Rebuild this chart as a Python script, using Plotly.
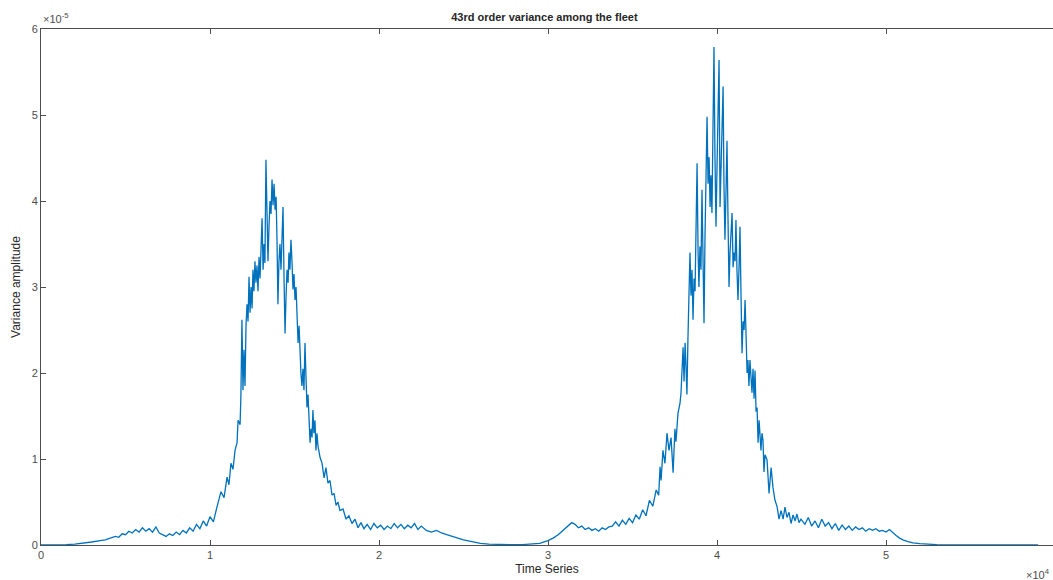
import plotly.graph_objects as go

# Time axis in units of 1e4, variance in units of 1e-5 (as shown with axis multipliers)
t_rise1 = [0.00, 0.05, 0.10, 0.15, 0.20, 0.25, 0.30, 0.35, 0.38, 0.41, 0.44, 0.46, 0.48, 0.50,
           0.52, 0.54, 0.56, 0.58, 0.60, 0.62, 0.64, 0.66, 0.68, 0.70, 0.72, 0.74, 0.76, 0.78,
           0.80, 0.82, 0.84, 0.86, 0.88, 0.90, 0.92, 0.94, 0.96, 0.98, 1.00, 1.02]
v_rise1 = [0.000, 0.000, 0.002, 0.005, 0.010, 0.020, 0.035, 0.050, 0.06, 0.08, 0.10, 0.09, 0.13, 0.12,
           0.16, 0.14, 0.18, 0.15, 0.20, 0.16, 0.19, 0.15, 0.21, 0.14, 0.12, 0.10, 0.13, 0.11,
           0.15, 0.12, 0.17, 0.14, 0.20, 0.16, 0.24, 0.19, 0.28, 0.22, 0.33, 0.27]

t_peak1 = [1.041, 1.065, 1.083, 1.101, 1.112, 1.124, 1.136, 1.148, 1.160, 1.166, 1.178, 1.183,
           1.189, 1.195, 1.201, 1.207, 1.213, 1.219, 1.225, 1.231, 1.237, 1.243, 1.249, 1.254,
           1.260, 1.266, 1.272, 1.278, 1.284, 1.290, 1.296, 1.302, 1.308, 1.314, 1.320, 1.325,
           1.331, 1.337, 1.343, 1.349, 1.355, 1.361, 1.367, 1.373, 1.379, 1.385, 1.391, 1.396,
           1.402, 1.408, 1.414, 1.420, 1.426, 1.432, 1.438, 1.444, 1.450, 1.456, 1.462, 1.467,
           1.473, 1.479, 1.485, 1.491, 1.497, 1.503, 1.509, 1.515, 1.521, 1.527, 1.533, 1.538,
           1.544, 1.550, 1.556, 1.562, 1.568, 1.574, 1.580, 1.586, 1.592, 1.598, 1.604, 1.609,
           1.615, 1.621, 1.627, 1.633, 1.639, 1.651, 1.663, 1.675, 1.686, 1.698, 1.710, 1.722,
           1.734, 1.746, 1.757, 1.769, 1.787, 1.805, 1.822, 1.840, 1.858, 1.876, 1.893, 1.911]
v_peak1 = [0.44, 0.62, 0.55, 0.79, 0.70, 0.95, 0.88, 1.10, 1.19, 1.45, 1.40, 1.75,
           2.62, 1.80, 2.27, 1.85, 2.55, 2.80, 2.60, 3.12, 2.70, 3.00, 2.75, 3.20,
           2.95, 3.30, 3.05, 3.25, 2.95, 3.35, 3.10, 3.45, 3.80, 3.20, 3.50, 3.28,
           4.48, 3.90, 3.30, 3.70, 4.00, 3.85, 4.25, 3.95, 4.20, 3.90, 4.05, 3.60,
           2.80, 3.30, 3.50, 3.20, 3.60, 3.93, 3.10, 2.46, 2.90, 3.20, 3.05, 3.40,
           3.20, 3.55, 3.30, 2.97, 3.15, 2.85, 3.00, 2.73, 2.35, 2.55, 2.10, 2.00,
           1.85, 2.05, 1.80, 2.35, 1.95, 1.60, 1.75, 1.45, 1.19, 1.35, 1.25, 1.57,
           1.30, 1.45, 1.10, 1.30, 1.15, 1.02, 0.95, 0.78, 0.90, 0.72, 0.75, 0.58,
           0.60, 0.46, 0.50, 0.40, 0.42, 0.30, 0.34, 0.25, 0.30, 0.20, 0.26, 0.19]

t_valley = [1.93, 1.95, 1.97, 1.99, 2.01, 2.03, 2.05, 2.07, 2.09, 2.11, 2.13, 2.15, 2.17, 2.19,
            2.21, 2.23, 2.25, 2.28, 2.31, 2.34, 2.37, 2.40, 2.43, 2.46, 2.50, 2.55, 2.60, 2.65,
            2.70, 2.75, 2.80, 2.85, 2.90, 2.95, 3.00, 3.03, 3.06, 3.09, 3.12, 3.14, 3.16, 3.18,
            3.20, 3.22, 3.24, 3.26, 3.28, 3.30, 3.32, 3.34, 3.36, 3.38, 3.40, 3.42, 3.44, 3.46,
            3.48, 3.50, 3.52, 3.54, 3.56, 3.58, 3.60, 3.62, 3.64, 3.655]
v_valley = [0.24, 0.18, 0.25, 0.20, 0.23, 0.18, 0.22, 0.19, 0.25, 0.20, 0.24, 0.19, 0.23, 0.20,
            0.25, 0.18, 0.22, 0.17, 0.15, 0.17, 0.14, 0.12, 0.10, 0.08, 0.06, 0.04, 0.02, 0.01,
            0.005, 0.003, 0.003, 0.005, 0.01, 0.02, 0.05, 0.08, 0.12, 0.17, 0.22, 0.26, 0.24, 0.20,
            0.22, 0.18, 0.20, 0.17, 0.19, 0.16, 0.20, 0.18, 0.21, 0.22, 0.27, 0.22, 0.29, 0.24,
            0.31, 0.26, 0.35, 0.30, 0.41, 0.34, 0.52, 0.45, 0.64, 0.58]

t_peak2 = [3.663, 3.669, 3.680, 3.692, 3.704, 3.716, 3.728, 3.740, 3.751, 3.757, 3.769, 3.781,
           3.787, 3.799, 3.805, 3.811, 3.817, 3.822, 3.828, 3.834, 3.840, 3.846, 3.852, 3.858,
           3.864, 3.870, 3.876, 3.882, 3.888, 3.893, 3.899, 3.905, 3.911, 3.917, 3.923, 3.929,
           3.935, 3.941, 3.947, 3.953, 3.959, 3.964, 3.970, 3.976, 3.982, 3.988, 3.994, 4.000,
           4.006, 4.012, 4.018, 4.024, 4.030, 4.036, 4.041, 4.047, 4.053, 4.059, 4.065, 4.071,
           4.077, 4.083, 4.089, 4.095, 4.101, 4.107, 4.112, 4.118, 4.124, 4.130, 4.136, 4.142,
           4.148, 4.154, 4.160, 4.166, 4.172, 4.178, 4.183, 4.189, 4.195, 4.201, 4.207, 4.213,
           4.219, 4.225, 4.231, 4.237, 4.243, 4.249, 4.254, 4.260, 4.266, 4.272, 4.278, 4.284,
           4.296, 4.308, 4.314, 4.320, 4.331, 4.343, 4.355, 4.367, 4.379, 4.391, 4.402, 4.414,
           4.426, 4.438, 4.450, 4.462, 4.473, 4.485, 4.497]
v_peak2 = [0.91, 0.75, 1.10, 0.95, 1.30, 1.10, 1.25, 0.84, 1.35, 1.20, 1.53, 1.65,
           1.77, 2.30, 1.90, 2.35, 2.05, 1.75, 2.40, 3.08, 3.40, 2.90, 3.20, 2.62,
           3.10, 2.95, 3.60, 4.44, 3.40, 3.00, 3.47, 3.20, 4.13, 3.30, 2.58, 3.60,
           4.40, 4.98, 4.20, 4.51, 3.93, 4.30, 3.86, 4.60, 5.79, 4.50, 3.70, 4.40,
           5.10, 5.64, 3.93, 4.40, 4.80, 5.33, 4.20, 3.55, 4.10, 4.70, 3.80, 3.00,
           3.40, 3.60, 3.86, 3.23, 3.40, 3.30, 3.78, 3.20, 2.85, 3.20, 3.70, 2.90,
           2.23, 2.60, 2.50, 2.85, 2.30, 2.00, 2.15, 1.85, 2.15, 1.90, 1.77, 2.05,
           1.70, 2.03, 1.55, 1.60, 1.19, 1.45, 1.30, 1.10, 1.30, 1.22, 0.85, 1.05,
           0.99, 0.60, 0.75, 0.90, 0.67, 0.52, 0.45, 0.30, 0.40, 0.30, 0.44, 0.32,
           0.38, 0.25, 0.35, 0.28, 0.36, 0.26, 0.30]

t_tail = [4.52, 4.54, 4.56, 4.58, 4.60, 4.62, 4.64, 4.66, 4.68, 4.70, 4.72, 4.74, 4.76, 4.78,
          4.80, 4.82, 4.84, 4.86, 4.88, 4.90, 4.92, 4.94, 4.96, 4.98, 5.00, 5.02, 5.04, 5.06,
          5.08, 5.10, 5.13, 5.16, 5.20, 5.25, 5.30, 5.40, 5.50, 5.60, 5.70, 5.80, 5.90]
v_tail = [0.24, 0.32, 0.22, 0.28, 0.20, 0.30, 0.22, 0.26, 0.19, 0.25, 0.17, 0.23, 0.18, 0.22,
          0.17, 0.21, 0.18, 0.20, 0.16, 0.19, 0.17, 0.19, 0.16, 0.17, 0.15, 0.18, 0.14, 0.11,
          0.08, 0.06, 0.04, 0.025, 0.015, 0.008, 0.005, 0.002, 0.001, 0.0, 0.0, 0.0, 0.0]

time_1e4 = t_rise1 + t_peak1 + t_valley + t_peak2 + t_tail
variance_1e5 = v_rise1 + v_peak1 + v_valley + v_peak2 + v_tail
assert len(time_1e4) == len(variance_1e5)

x_ticks = [0, 1, 2, 3, 4, 5]
y_ticks = [0, 1, 2, 3, 4, 5, 6]

FONT = "Liberation Sans, Arial, sans-serif"
AX = "#4d4d4d"

fig = go.Figure()
fig.add_trace(go.Scatter(x=time_1e4, y=variance_1e5, mode="lines",
                         line=dict(color="#0072BD", width=1.3), showlegend=False))

fig.update_layout(
    width=1053, height=580,
    margin=dict(l=41, r=0, t=29, b=35),
    paper_bgcolor="white", plot_bgcolor="white",
    font=dict(family=FONT, size=11, color=AX),
    title=dict(text="<b>43rd order variance among the fleet</b>", x=0.517, xanchor="center",
               y=0.97, yanchor="middle", font=dict(size=11, color="#262626", family=FONT)),
    xaxis=dict(range=[0, 5.988], tickvals=x_ticks, ticktext=[str(v) for v in x_ticks],
               ticks="inside", ticklen=5, tickcolor=AX, showline=True, linecolor=AX,
               linewidth=1, mirror="allticks", showgrid=False, zeroline=False,
               title=dict(text="Time Series", standoff=4, font=dict(size=12, color="#262626")),
               tickfont=dict(size=11, color=AX)),
    yaxis=dict(range=[0, 6], tickvals=y_ticks, ticktext=[str(v) for v in y_ticks],
               ticks="inside", ticklen=5, tickcolor=AX, showline=True, linecolor=AX,
               linewidth=1, mirror=False, showgrid=False, zeroline=False,
               title=dict(text="Variance amplitude", standoff=8, font=dict(size=12, color="#262626")),
               tickfont=dict(size=11, color=AX)),
)

fig.add_annotation(text="×10<sup>-5</sup>", xref="paper", yref="paper", x=0.0, y=1.0,
                   xanchor="left", yanchor="bottom", showarrow=False,
                   font=dict(size=11, color=AX, family=FONT), yshift=2)
fig.add_annotation(text="×10<sup>4</sup>", xref="paper", yref="paper", x=1.0, y=0,
                   xanchor="right", yanchor="top", showarrow=False,
                   font=dict(size=11, color=AX, family=FONT), yshift=-20, xshift=-1)

fig.write_html("out.html")
